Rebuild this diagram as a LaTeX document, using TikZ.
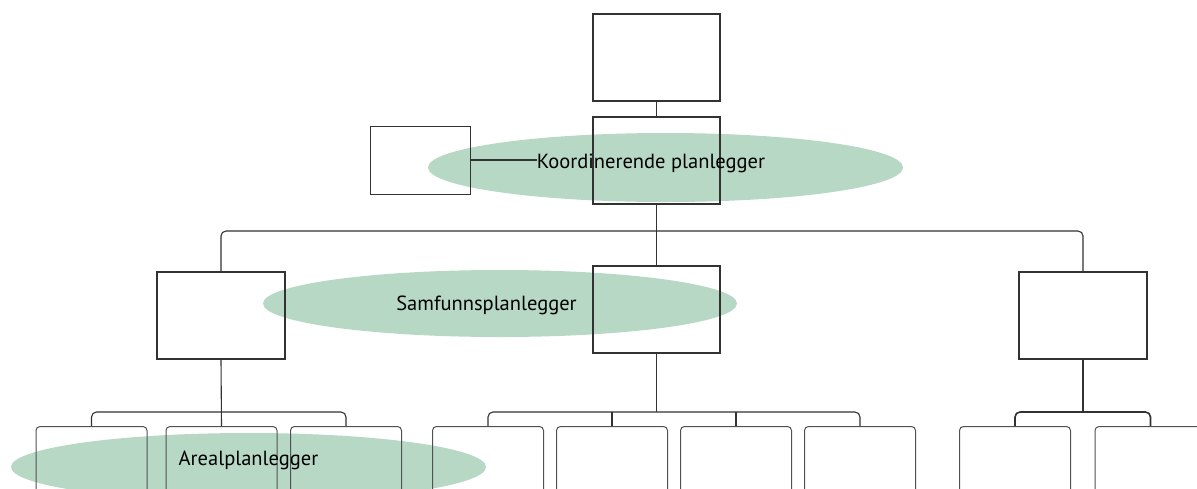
\documentclass[tikz,border=0pt]{standalone}
\usepackage{fontspec}
\setmainfont{PT Sans}
\usetikzlibrary{shapes.geometric}
\definecolor{rolegreen}{RGB}{182,216,197}
\definecolor{linegray}{RGB}{50,50,50}
\begin{document}
\begin{tikzpicture}[x=1pt,y=-1pt,
  orgbox/.style={draw=linegray,line width=1.2pt,inner sep=0pt,
    minimum width=127pt,minimum height=87pt},
  sidebox/.style={draw=linegray,line width=1pt,inner sep=0pt,
    minimum width=100pt,minimum height=68pt},
  unitbox/.style={draw=linegray!85,line width=1pt,rounded corners=4pt,
    inner sep=0pt,minimum width=111pt,minimum height=160pt,anchor=north},
  role/.style={ellipse,fill=rolegreen,inner sep=0pt},
  rolelabel/.style={font=\fontsize{20.5}{24}\selectfont,text=black,
    inner sep=0pt,anchor=base},
  link/.style={draw=linegray,line width=1.1pt},
  heavylink/.style={draw=linegray,line width=1.8pt},
  bracket/.style={draw=linegray,line width=1.1pt,rounded corners=5pt}]

\useasboundingbox (0,0) rectangle (1197,488);
\fill[white] (0,0) rectangle (1197,488);
\clip (0,0) rectangle (1197,488);

% green role ellipses, underneath everything else
\node[role,minimum width=475pt,minimum height=69pt] (ekoord) at (665.5,167.5) {};
\node[role,minimum width=474pt,minimum height=67pt] (esamf) at (500,303.5) {};
\node[role,minimum width=475pt,minimum height=68pt] (eareal) at (248.5,467) {};

% top levels
\node[orgbox] (top) at (656.5,57.5) {};
\node[orgbox] (coord) at (656.5,160.5) {};
\node[sidebox] (side) at (420,160) {};
\coordinate (sideend) at (537,160);

% second level
\node[orgbox,minimum width=128pt] (l2a) at (221,315.5) {};
\node[orgbox] (l2b) at (656.5,309.5) {};
\node[orgbox,minimum width=128pt] (l2c) at (1083,315.5) {};

% third level (open at the bottom)
\node[unitbox] (a1) at (91.5,426) {};
\node[unitbox] (a2) at (221.5,426) {};
\node[unitbox] (a3) at (346,426) {};
\node[unitbox] (b1) at (488,426) {};
\node[unitbox] (b2) at (612,426) {};
\node[unitbox] (b3) at (736,426) {};
\node[unitbox] (b4) at (860,426) {};
\node[unitbox] (c1) at (1015,426) {};
\node[unitbox] (c2) at (1150.5,426) {};

% connectors
\coordinate (bar1) at (0,231);
\coordinate (bar2) at (0,412);
\draw[link] (top.south) -- (coord.north);
\draw[link] (side.east) -- (sideend);
\draw[link] (coord.south) -- (l2b.north);
\draw[bracket] (l2a.north) -- (l2a.north |- bar1) -- (l2c.north |- bar1) -- (l2c.north);

\draw[link] (l2a.south) -- (a2.north);
\draw[bracket] (a1.north) -- (a1.north |- bar2) -- (a3.north |- bar2) -- (a3.north);

\coordinate (bmid) at (l2b.south |- bar2);
\draw[link] (l2b.south) -- (bmid);
\draw[bracket] (b1.north) -- (b1.north |- bar2) -- (b4.north |- bar2) -- (b4.north);
\draw[link] (b2.north) -- (b2.north |- bar2);
\draw[link] (b3.north) -- (b3.north |- bar2);

\draw[heavylink] (l2c.south) -- (l2c.south |- bar2);
\draw[bracket,line width=1.6pt] (c1.north) -- (c1.north |- bar2) -- (c2.north |- bar2) -- (c2.north);

% role labels
\node[rolelabel] (tkoord) at (651,168) {Koordinerende planlegger};
\node[rolelabel] (tsamf) at (486.5,310) {Samfunnsplanlegger};
\node[rolelabel] (tareal) at (248.5,465) {Arealplanlegger};
\end{tikzpicture}
\end{document}
